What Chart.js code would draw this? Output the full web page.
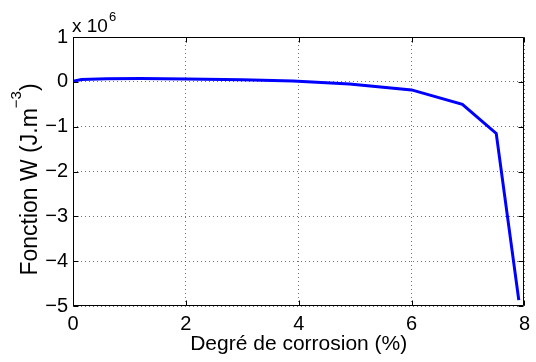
<!DOCTYPE html>
<html>
<head>
<meta charset="utf-8">
<script src="https://cdn.jsdelivr.net/npm/chart.js@4/dist/chart.umd.min.js"></script>
<style>
  html, body { margin: 0; padding: 0; background: #fff; }
  #wrap { width: 536px; height: 362px; }
</style>
</head>
<body>
<div id="wrap"><canvas id="c" width="536" height="362"></canvas></div>
<script>
// Corrosion degree (%) and the W function (J.m^-3)
const corrosion = [0, 0.15, 0.6, 1.2, 2.0, 3.0, 3.9, 4.9, 6.0, 6.9, 7.5, 7.9];
const wValues = [0.01e6, 0.05e6, 0.07e6, 0.075e6, 0.065e6, 0.045e6, 0.02e6, -0.05e6, -0.18e6, -0.5e6, -1.15e6, -4.87e6];
const xTicks = [0, 2, 4, 6, 8];
const yTicks = [-5e6, -4e6, -3e6, -2e6, -1e6, 0, 1e6];
const yScaleExp = 6;

const FONT = 'Liberation Sans, Arial, Helvetica, sans-serif';

function fmt(v) {
  const n = Math.round(v / Math.pow(10, yScaleExp));
  return n < 0 ? '\u2212' + Math.abs(n) : String(n);
}

// Box, inward tick marks, y title with superscript and the exponent note
const matlabAxes = {
  id: 'matlabAxes',
  afterDraw(chart) {
    const { ctx, chartArea: a, scales: { x, y } } = chart;
    const L = Math.round(a.left) + 0.5, R = Math.round(a.right) - 0.5;
    const T = Math.round(a.top) + 0.5, B = Math.round(a.bottom) - 0.5;
    const tl = 5;
    ctx.save();
    ctx.strokeStyle = '#000';
    ctx.lineWidth = 1;
    ctx.beginPath();
    ctx.rect(L, T, R - L, B - T);
    xTicks.forEach(v => {
      const px = Math.round(x.getPixelForValue(v)) + 0.5;
      ctx.moveTo(px, B); ctx.lineTo(px, B - tl);
      ctx.moveTo(px, T); ctx.lineTo(px, T + tl);
    });
    yTicks.forEach(v => {
      const py = Math.round(y.getPixelForValue(v)) + 0.5;
      ctx.moveTo(L, py); ctx.lineTo(L + tl, py);
      ctx.moveTo(R, py); ctx.lineTo(R - tl, py);
    });
    ctx.stroke();

    // y axis title, rotated
    ctx.fillStyle = '#000';
    const mainFont = '23px ' + FONT, supFont = '15px ' + FONT;
    const t1 = 'Fonction W (J.m', sup = '\u22123', t2 = ')';
    ctx.font = mainFont;
    const w1 = ctx.measureText(t1).width, w2 = ctx.measureText(t2).width;
    ctx.font = supFont;
    const ws = ctx.measureText(sup).width;
    const total = w1 + ws + w2;
    ctx.translate(36.5, 179.5);
    ctx.rotate(-Math.PI / 2);
    ctx.textBaseline = 'alphabetic';
    ctx.textAlign = 'left';
    let sx = -total / 2;
    ctx.font = mainFont; ctx.fillText(t1, sx, 0); sx += w1;
    ctx.font = supFont; ctx.fillText(sup, sx, -16); sx += ws;
    ctx.font = mainFont; ctx.fillText(t2, sx, 0);
    ctx.restore();

    // exponent note above the axes
    ctx.save();
    ctx.fillStyle = '#000';
    ctx.textBaseline = 'alphabetic';
    ctx.font = '19px ' + FONT;
    const base = 'x 10';
    ctx.fillText(base, 72, 31.5);
    const wb = ctx.measureText(base).width;
    ctx.font = '13px ' + FONT;
    ctx.fillText(String(yScaleExp), 72 + wb + 1, 20.5);
    ctx.restore();
  }
};

new Chart(document.getElementById('c'), {
  type: 'line',
  data: {
    datasets: [{
      data: corrosion.map((c, i) => ({ x: c, y: wValues[i] })),
      borderColor: '#0000ff',
      borderWidth: 3,
      pointRadius: 0,
      fill: false,
      tension: 0
    }]
  },
  options: {
    responsive: false,
    animation: false,
    layout: { padding: { left: 0, right: 6, top: 37, bottom: 0 } },
    plugins: { legend: { display: false }, tooltip: { enabled: false } },
    scales: {
      x: {
        type: 'linear',
        min: 0, max: 8,
        afterFit(s) { s.height = 56; },
        afterBuildTicks(s) { s.ticks = xTicks.map(v => ({ value: v })); },
        ticks: { padding: 6, color: '#000', font: { family: FONT, size: 20 }, maxRotation: 0 },
        grid: { color: 'rgba(0,0,0,0.55)', lineWidth: 1, drawTicks: false },
        border: { display: false, dash: [1, 3] },
        title: { display: true, text: 'Degré de corrosion (%)', color: '#000',
                 font: { family: FONT, size: 21 }, padding: { top: 0, bottom: 5 } }
      },
      y: {
        type: 'linear',
        min: -5e6, max: 1e6,
        afterFit(s) { s.width = 73; },
        afterBuildTicks(s) { s.ticks = yTicks.map(v => ({ value: v })); },
        ticks: { padding: 5, color: '#000', font: { family: FONT, size: 20 }, callback: v => fmt(v) },
        grid: { color: 'rgba(0,0,0,0.55)', lineWidth: 1, drawTicks: false },
        border: { display: false, dash: [1, 3] }
      }
    }
  },
  plugins: [matlabAxes]
});
</script>
</body>
</html>
